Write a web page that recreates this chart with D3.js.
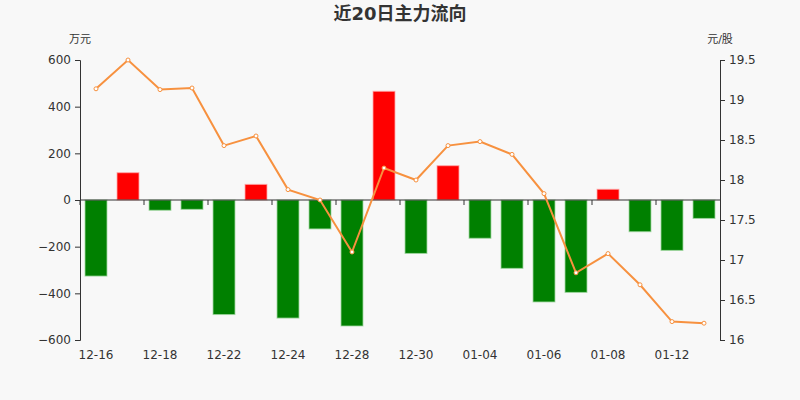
<!DOCTYPE html>
<html><head><meta charset="utf-8">
<script src="https://cdn.jsdelivr.net/npm/d3@7"></script>
<style>
html,body{margin:0;padding:0;background:#f8f8f8;}
svg{display:block;}
svg text{font-family:"DejaVu Sans","Noto Sans CJK SC",sans-serif;}
</style></head><body>
<svg id="c" width="800" height="400"></svg>
<script>
const categories = ["12-16","12-17","12-18","12-19","12-22","12-23","12-24","12-25","12-28","12-29","12-30","12-31","01-04","01-05","01-06","01-07","01-08","01-11","01-12","01-13"];
const flowValues = [-326,117,-44,-40,-491,67,-506,-124,-540,466,-229,147,-164,-293,-437,-396,46,-136,-216,-79];
const priceValues = [19.14,19.50,19.13,19.15,18.43,18.55,17.88,17.75,17.10,18.15,18.00,18.43,18.48,18.32,17.83,16.84,17.08,16.69,16.23,16.21];
const leftTicks = [-600,-400,-200,0,200,400,600];
const rightTicks = [16,16.5,17,17.5,18,18.5,19,19.5];

const svg = d3.select("#c");
const L=80,R=720,T=60,B=340;
const xc = d3.scaleBand().domain(categories).range([L,R]);
const yL = d3.scaleLinear().domain([-600,600]).range([B,T]);
const yR = d3.scaleLinear().domain([16,19.5]).range([B,T]);
const FONT = '"DejaVu Sans","Noto Sans CJK SC",sans-serif';

svg.append("rect").attr("width",800).attr("height",400).attr("fill","#f8f8f8");

svg.append("text").attr("x",400).attr("y",20).attr("text-anchor","middle")
  .attr("font-size",18).attr("font-weight","bold").attr("fill","#333").text("近20日主力流向");

// bars
svg.append("g").selectAll("rect").data(flowValues).join("rect")
  .attr("x",(d,i)=>xc(categories[i])+xc.bandwidth()/2-11)
  .attr("width",22)
  .attr("y",d=>d>=0?yL(d):yL(0))
  .attr("height",d=>Math.abs(yL(d)-yL(0)))
  .attr("fill",d=>d>=0?"#ff0000":"#008000")
  .attr("stroke",d=>d>=0?"rgba(255,170,170,0.8)":"rgba(160,215,160,0.8)")
  .attr("stroke-width",1);

// left axis
const gl = svg.append("g").attr("transform",`translate(${L},0)`)
  .call(d3.axisLeft(yL).tickValues(leftTicks).tickSize(5).tickPadding(4));
gl.attr("font-family",FONT).attr("font-size",12);
gl.select(".domain").attr("stroke","#333");
gl.selectAll(".tick line").attr("stroke","#333");
gl.selectAll(".tick text").attr("fill","#333");

// right axis
const gr = svg.append("g").attr("transform",`translate(${R},0)`)
  .call(d3.axisRight(yR).tickValues(rightTicks).tickSize(5).tickPadding(4).tickFormat(d=>d3.format("")(d)));
gr.attr("font-family",FONT).attr("font-size",12);
gr.select(".domain").attr("stroke","#333");
gr.selectAll(".tick line").attr("stroke","#333");
gr.selectAll(".tick text").attr("fill","#333");

// x axis at zero
const gx = svg.append("g").attr("transform",`translate(0,${yL(0)})`);
gx.append("line").attr("x1",L).attr("x2",R).attr("stroke","#333");
const tickIdx = categories.map((c,i)=>i).filter(i=>i%2===0);
gx.selectAll("line.t").data(tickIdx).join("line").attr("class","t")
  .attr("x1",i=>xc(categories[i])).attr("x2",i=>xc(categories[i]))
  .attr("y1",0).attr("y2",5).attr("stroke","#333");
svg.append("g").selectAll("text").data(tickIdx).join("text")
  .attr("x",i=>xc(categories[i])+xc.bandwidth()/2)
  .attr("y",B+19).attr("text-anchor","middle").attr("font-size",12).attr("fill","#333")
  .text(i=>categories[i]);

// axis names
svg.append("text").attr("x",80).attr("y",43).attr("text-anchor","middle").attr("font-size",11).attr("fill","#333").text("万元");
svg.append("text").attr("x",720).attr("y",43).attr("text-anchor","middle").attr("font-size",11).attr("fill","#333").text("元/股");

// line
const line = d3.line().x((d,i)=>xc(categories[i])+xc.bandwidth()/2).y(d=>yR(d));
svg.append("path").datum(priceValues).attr("d",line).attr("fill","none")
  .attr("stroke","#f7913f").attr("stroke-width",2);
svg.append("g").selectAll("circle").data(priceValues).join("circle")
  .attr("cx",(d,i)=>xc(categories[i])+xc.bandwidth()/2).attr("cy",d=>yR(d)).attr("r",2)
  .attr("fill","#fff").attr("stroke","#f7913f").attr("stroke-width",1);
</script></body></html>
